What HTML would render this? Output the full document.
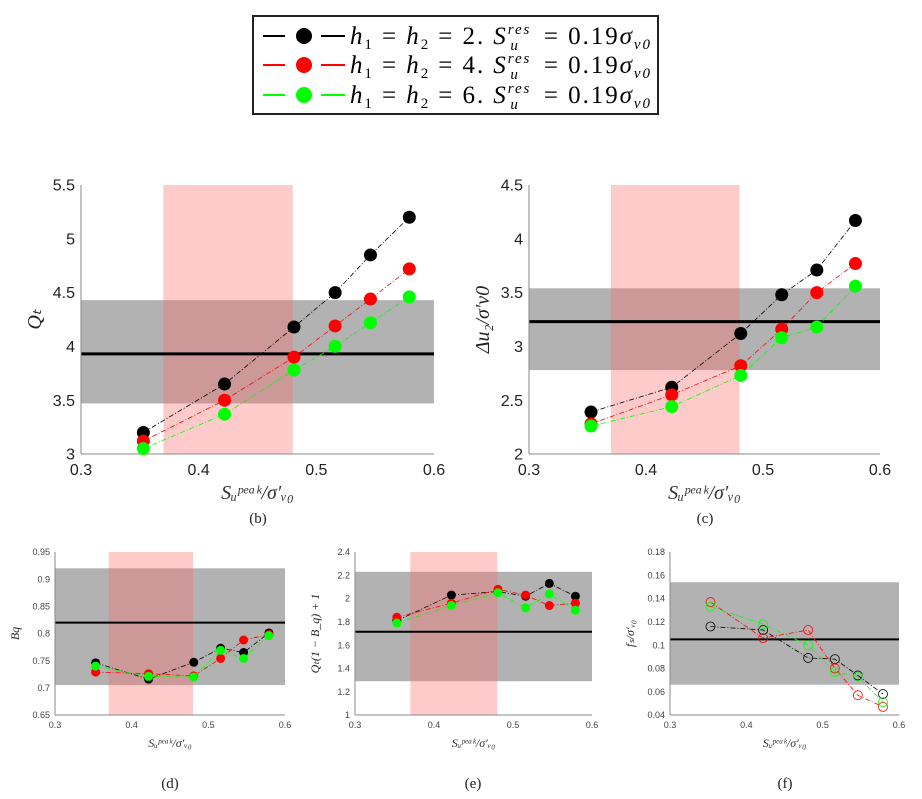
<!DOCTYPE html>
<html><head><meta charset="utf-8"><style>
body{margin:0;background:#fff;}
svg{display:block;font-family:"Liberation Sans",sans-serif;}
.serif{font-family:"Liberation Serif",serif;}
</style></head><body>
<svg id="fig" width="922" height="799" viewBox="0 0 922 799" xmlns="http://www.w3.org/2000/svg">
<g>
<rect x="253" y="16" width="405" height="98" fill="#fff" stroke="#222" stroke-width="2"/>
<g>
<line x1="263" y1="36" x2="285" y2="36" stroke="#000" stroke-width="2"/><circle cx="304" cy="36" r="8" fill="#000"/><line x1="321" y1="36" x2="345" y2="36" stroke="#000" stroke-width="2"/>
<text class="serif" x="350" y="44" font-size="25" font-style="italic" textLength="300" lengthAdjust="spacing">h<tspan font-size="15" dy="5" font-style="normal">1</tspan><tspan dy="-5" font-style="normal"> = </tspan>h<tspan font-size="15" dy="5" font-style="normal">2</tspan><tspan dy="-5" font-style="normal"> = 2.  </tspan>S<tspan font-size="15" dy="-10">res</tspan><tspan font-size="15" dx="-21" dy="16">u</tspan><tspan dx="16" dy="-6" font-style="normal"> = 0.19</tspan>σ<tspan font-size="15" dy="5">v0</tspan></text></g>
<g>
<line x1="263" y1="65" x2="285" y2="65" stroke="#f00" stroke-width="2"/><circle cx="304" cy="65" r="8" fill="#f00"/><line x1="321" y1="65" x2="345" y2="65" stroke="#f00" stroke-width="2"/>
<text class="serif" x="350" y="73" font-size="25" font-style="italic" textLength="300" lengthAdjust="spacing">h<tspan font-size="15" dy="5" font-style="normal">1</tspan><tspan dy="-5" font-style="normal"> = </tspan>h<tspan font-size="15" dy="5" font-style="normal">2</tspan><tspan dy="-5" font-style="normal"> = 4.  </tspan>S<tspan font-size="15" dy="-10">res</tspan><tspan font-size="15" dx="-21" dy="16">u</tspan><tspan dx="16" dy="-6" font-style="normal"> = 0.19</tspan>σ<tspan font-size="15" dy="5">v0</tspan></text></g>
<g>
<line x1="263" y1="95" x2="285" y2="95" stroke="#0f0" stroke-width="2"/><circle cx="304" cy="95" r="8" fill="#0f0"/><line x1="321" y1="95" x2="345" y2="95" stroke="#0f0" stroke-width="2"/>
<text class="serif" x="350" y="103" font-size="25" font-style="italic" textLength="300" lengthAdjust="spacing">h<tspan font-size="15" dy="5" font-style="normal">1</tspan><tspan dy="-5" font-style="normal"> = </tspan>h<tspan font-size="15" dy="5" font-style="normal">2</tspan><tspan dy="-5" font-style="normal"> = 6.  </tspan>S<tspan font-size="15" dy="-10">res</tspan><tspan font-size="15" dx="-21" dy="16">u</tspan><tspan dx="16" dy="-6" font-style="normal"> = 0.19</tspan>σ<tspan font-size="15" dy="5">v0</tspan></text></g>
</g>
</svg>
<script>
const xVals = [0.353, 0.422, 0.481, 0.516, 0.546, 0.579];
const qtBlack = [3.2, 3.65, 4.18, 4.5, 4.85, 5.2];
const qtRed = [3.12, 3.5, 3.9, 4.19, 4.44, 4.72];
const qtGreen = [3.05, 3.37, 3.78, 4.0, 4.22, 4.46];
const duBlack = [2.39, 2.62, 3.12, 3.48, 3.71, 4.17];
const duRed = [2.28, 2.55, 2.82, 3.16, 3.5, 3.77];
const duGreen = [2.26, 2.44, 2.73, 3.08, 3.18, 3.56];
const bqBlack = [0.746, 0.716, 0.747, 0.773, 0.765, 0.801];
const bqRed = [0.729, 0.726, 0.722, 0.754, 0.788, 0.798];
const bqGreen = [0.740, 0.721, 0.720, 0.769, 0.754, 0.796];
const qbBlack = [1.81, 2.03, 2.06, 2.02, 2.13, 2.02];
const qbRed = [1.84, 1.96, 2.08, 2.03, 1.94, 1.96];
const qbGreen = [1.79, 1.94, 2.05, 1.92, 2.04, 1.90];
const fsBlack = [0.116, 0.113, 0.089, 0.088, 0.074, 0.058];
const fsRed = [0.137, 0.106, 0.113, 0.080, 0.057, 0.047];
const fsGreen = [0.133, 0.118, 0.100, 0.077, 0.073, 0.051];
const xTicks = [0.3, 0.4, 0.5, 0.6];
const pinkRange = [0.37, 0.48];

const NS = "http://www.w3.org/2000/svg";
const svg = document.getElementById('fig');
function mk(tag, attrs, parent){const e=document.createElementNS(NS,tag);for(const k in attrs)e.setAttribute(k,attrs[k]);parent.appendChild(e);return e;}

const panels = [
 {id:'b', L:81, R:434, T:185, B:454, ymin:3, ymax:5.5, yTicks:[3,3.5,4,4.5,5,5.5], band:[3.47,4.43], mean:3.93, pink:true, series:[qtBlack,qtRed,qtGreen], r:6.5, filled:true, fs:16, ylab:'Qₜ', cap:'(b)', capX:258, capY:523},
 {id:'c', L:529, R:880, T:185, B:454, ymin:2, ymax:4.5, yTicks:[2,2.5,3,3.5,4,4.5], band:[2.78,3.54], mean:3.23, pink:true, series:[duBlack,duRed,duGreen], r:6.5, filled:true, fs:16, ylab:'Δu₂/σ′v0', cap:'(c)', capX:705, capY:523},
 {id:'d', L:55, R:285, T:552, B:715, ymin:0.65, ymax:0.95, yTicks:[0.65,0.7,0.75,0.8,0.85,0.9,0.95], band:[0.705,0.92], mean:0.82, pink:true, series:[bqBlack,bqRed,bqGreen], r:4.5, filled:true, fs:9, ylab:'Bq', cap:'(d)', capX:170, capY:788},
 {id:'e', L:355, R:592, T:552, B:715, ymin:1, ymax:2.4, yTicks:[1,1.2,1.4,1.6,1.8,2,2.2,2.4], band:[1.29,2.23], mean:1.715, pink:true, series:[qbBlack,qbRed,qbGreen], r:4.5, filled:true, fs:9, ylab:'Qₜ(1 − B_q) + 1', cap:'(e)', capX:473, capY:788},
 {id:'f', L:670, R:899, T:552, B:715, ymin:0.04, ymax:0.18, yTicks:[0.04,0.06,0.08,0.1,0.12,0.14,0.16,0.18], band:[0.066,0.154], mean:0.105, pink:false, series:[fsBlack,fsRed,fsGreen], r:4.5, filled:false, fs:9, ylab:'fₛ/σ′ᵥ₀', cap:'(f)', capX:785, capY:788}
];
const colors=['#000','#f00','#0f0'];
const names=['black','red','green'];

panels.forEach(p=>{
  const big=p.fs>12;
  const g=mk('g',{},svg);
  
  
  const sx=v=>p.L+(v-0.3)/(0.6-0.3)*(p.R-p.L);
  const sy=v=>p.B-(v-p.ymin)/(p.ymax-p.ymin)*(p.B-p.T);
  const band=mk('rect',{x:p.L,y:sy(p.band[1]),width:p.R-p.L,height:sy(p.band[0])-sy(p.band[1]),fill:'#000','fill-opacity':0.3},g);
  
  
  if(p.pink){
    const pk=mk('rect',{x:sx(pinkRange[0]),y:p.T,width:sx(pinkRange[1])-sx(pinkRange[0]),height:p.B-p.T,fill:'#f66','fill-opacity':0.35},g);
    
    
  }
  const ml=mk('line',{x1:p.L,x2:p.R,y1:sy(p.mean),y2:sy(p.mean),stroke:'#000','stroke-width':big?3:2},g);
  
  
  mk('line',{x1:p.L,x2:p.R,y1:p.B,y2:p.B,stroke:'#888','stroke-width':1},g);
  mk('line',{x1:p.L,x2:p.L,y1:p.T,y2:p.B,stroke:'#888','stroke-width':1},g);
  xTicks.forEach(t=>{
    const tx=mk('text',{x:sx(t),y:p.B+(big?21:13),'font-size':p.fs,'text-anchor':'middle',fill:big?'#222':'#444'},g);
    tx.textContent=String(t);
    
    
  });
  p.yTicks.forEach(t=>{
    const ty=mk('text',{x:p.L-(big?6:5),y:sy(t)+p.fs*0.35,'font-size':p.fs,'text-anchor':'end',fill:big?'#222':'#444'},g);
    ty.textContent=String(+t.toFixed(2));
    
    
  });
  const xl=mk('text',{x:(p.L+p.R)/2,y:p.B+(big?45:32),'font-size':big?20:12,'text-anchor':'middle','font-style':'italic',class:'serif',fill:'#333'},g);
  xl.textContent='Sᵤᵖᵉᵃᵏ/σ′ᵥ₀';
  
  
  const yl=mk('text',{transform:`translate(${p.L-(big?40:36)},${(p.T+p.B)/2}) rotate(-90)`,'font-size':big?20:12,'text-anchor':'middle','font-style':'italic',class:'serif',fill:'#222'},g);
  yl.textContent=p.ylab;
  
  
  const cap=mk('text',{x:p.capX,y:p.capY,'font-size':15,'text-anchor':'middle',class:'serif',fill:'#222'},g);
  cap.textContent=p.cap;
  
  
  p.series.forEach((s,i)=>{
    const pts=s.map((v,j)=>sx(xVals[j])+','+sy(v)).join(' ');
    const pl=mk('polyline',{points:pts,fill:'none',stroke:colors[i],'stroke-width':0.8,'stroke-dasharray':'5,2,1,2'},g);
    
    
    s.forEach((v,j)=>{
      const c=mk('circle',{cx:sx(xVals[j]),cy:sy(v),r:p.r,fill:p.filled?colors[i]:'none',stroke:colors[i],'stroke-width':p.filled?0:0.8},g);
      
      
    });
  });
});
</script>
</body></html>
